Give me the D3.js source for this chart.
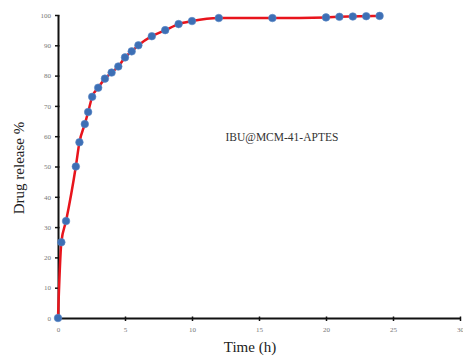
<!DOCTYPE html>
<html>
<head>
<meta charset="utf-8">
<style>
  body { margin: 0; background: #fff; }
  svg { display: block; }
</style>
</head>
<body>
<svg id="chart" width="463" height="356"></svg>
<script src="https://d3js.org/d3.v7.min.js"></script>
<script>
// release data
var time = [0, 0.25, 0.6, 1.33, 1.6, 2, 2.25, 2.55, 3, 3.5, 4, 4.5, 5, 5.5, 6, 7, 8, 9, 10, 12, 16, 20, 21, 22, 23, 24];
var release = [0, 25, 32, 50, 58, 64, 68, 73, 76, 79, 81, 83, 86, 88, 90, 93, 95, 97, 98, 99, 99, 99.2, 99.4, 99.5, 99.6, 99.7];
var xTicks = [0, 5, 10, 15, 20, 25, 30];
var yTicks = [0, 10, 20, 30, 40, 50, 60, 70, 80, 90, 100];
var sampleLabel = "IBU@MCM-41-APTES";

var svg = d3.select("#chart"),
    margin = {top: 15, right: 3, bottom: 38, left: 58},
    width = +svg.attr("width") - margin.left - margin.right,
    height = +svg.attr("height") - margin.top - margin.bottom,
    g = svg.append("g").attr("transform", "translate(" + margin.left + "," + margin.top + ")");

var x = d3.scaleLinear().domain([0, 30]).range([0, width]);
var y = d3.scaleLinear().domain([0, 100]).range([height, 0]);

var data = time.map(function(t, i) { return [t, release[i]]; });

// axes
var xAxis = g.append("g")
    .attr("transform", "translate(0," + height + ")")
    .call(d3.axisBottom(x).tickValues(xTicks).tickSize(3).tickPadding(6).tickSizeOuter(0));
var yAxis = g.append("g")
    .call(d3.axisLeft(y).tickValues(yTicks).tickSize(3).tickPadding(4).tickSizeOuter(0));

[xAxis, yAxis].forEach(function(a) {
  a.select(".domain").attr("stroke", "#111").attr("stroke-width", 2);
  a.selectAll(".tick line").attr("stroke", "#111").attr("stroke-width", 1.5);
  a.selectAll(".tick text")
      .attr("fill", "#777")
      .style("font-family", "'Liberation Serif', 'Times New Roman', serif")
      .style("font-size", "7px");
});
xAxis.selectAll(".tick line").attr("y1", -1.5);
yAxis.selectAll(".tick line").attr("x1", 1.5);

var line = d3.line()
    .x(function(d) { return x(d[0]); })
    .y(function(d) { return y(d[1]); })
    .curve(d3.curveMonotoneX);

g.append("path")
    .datum(data)
    .attr("fill", "none")
    .attr("stroke", "#e8141c")
    .attr("stroke-width", 2.5)
    .attr("stroke-linejoin", "round")
    .attr("d", line);

g.selectAll("circle")
    .data(data)
  .enter().append("circle")
    .attr("cx", function(d) { return x(d[0]); })
    .attr("cy", function(d) { return y(d[1]); })
    .attr("r", 3.8)
    .attr("fill", "#3d6fb5")
    .attr("stroke", "#5a88c6")
    .attr("stroke-width", 0.6);

g.append("text")
    .attr("x", x(12.5))
    .attr("y", 126)
    .attr("fill", "#333")
    .style("font-family", "'Liberation Serif', 'Times New Roman', serif")
    .style("font-size", "11.5px")
    .text(sampleLabel);

svg.append("text")
    .attr("x", 250)
    .attr("y", 352)
    .attr("text-anchor", "middle")
    .attr("fill", "#222")
    .style("font-family", "'Liberation Serif', 'Times New Roman', serif")
    .style("font-size", "15px")
    .text("Time (h)");

svg.append("text")
    .attr("transform", "translate(24,168) rotate(-90)")
    .attr("text-anchor", "middle")
    .attr("fill", "#222")
    .style("font-family", "'Liberation Serif', 'Times New Roman', serif")
    .style("font-size", "15px")
    .text("Drug release %");
</script>
</body>
</html>
